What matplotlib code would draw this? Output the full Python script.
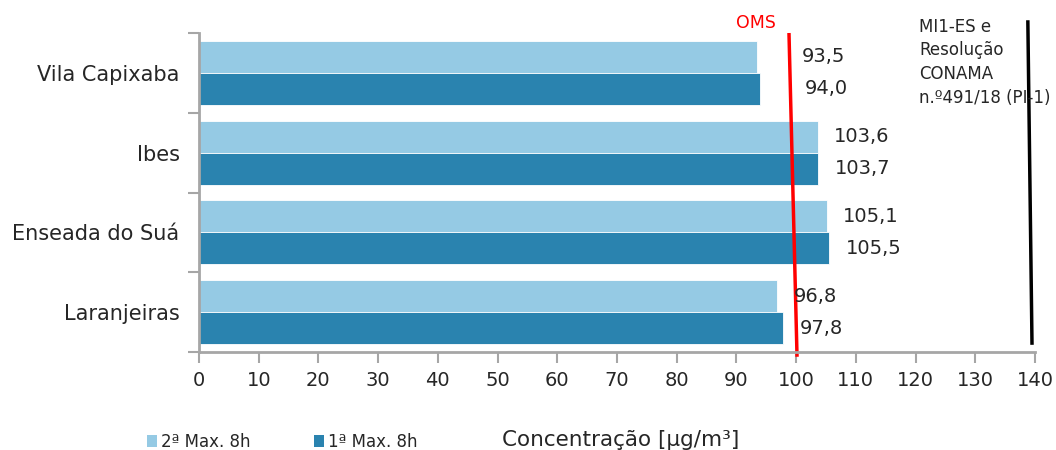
import matplotlib
matplotlib.use("Agg")
import matplotlib.pyplot as plt
from matplotlib.patches import Patch

plt.rcParams['font.family'] = ['DejaVu Sans']

# Monitoring stations, listed top to bottom
stations = ["Vila Capixaba", "Ibes", "Enseada do Suá", "Laranjeiras"]
second_max = [93.5, 103.6, 105.1, 96.8]   # 2ª Max. 8h
first_max = [94.0, 103.7, 105.5, 97.8]    # 1ª Max. 8h
second_labels = ["93,5", "103,6", "105,1", "96,8"]
first_labels = ["94,0", "103,7", "105,5", "97,8"]
x_ticks = list(range(0, 141, 10))

# Reference limits (drawn as slightly slanted guide lines)
oms_line = (98.8, 100.15)      # x at top, x at bottom
conama_line = (138.8, 139.5)

light = "#95CAE4"
dark = "#2A83AF"
grey = "#A6A6A6"
txt = "#262626"

fig = plt.figure(figsize=(10.56, 4.5), dpi=100)
ax = fig.add_axes([199 / 1056, 1 - 352 / 450, (1035 - 199) / 1056, (352 - 33) / 450])

n = len(stations)
pos = [n - 1 - i for i in range(n)]
h = 0.4
ax.barh([p + h / 2 for p in pos], second_max, height=h, color=light,
        edgecolor="white", linewidth=0.6, label="2ª Max. 8h")
ax.barh([p - h / 2 for p in pos], first_max, height=h, color=dark,
        edgecolor="white", linewidth=0.6, label="1ª Max. 8h")

# value labels; the top station's labels sit to the right of the OMS line
for i, p in enumerate(pos):
    off = 32 if i == 0 else 12
    ax.annotate(second_labels[i], (second_max[i], p + h / 2), xytext=(off, 0),
                textcoords="offset points", va="center", ha="left",
                fontsize=14, color=txt)
    ax.annotate(first_labels[i], (first_max[i], p - h / 2), xytext=(off, 0),
                textcoords="offset points", va="center", ha="left",
                fontsize=14, color=txt)

ax.set_xlim(0, 140)
ax.set_ylim(-0.5, n - 0.5)
ax.set_xticks(x_ticks)
ax.set_xticklabels([str(t) for t in x_ticks], fontsize=14, color=txt)
ax.set_yticks(pos)
ax.set_yticklabels(stations, fontsize=15, color=txt)
ax.set_yticks([p - 0.5 for p in range(n + 1)], minor=True)
ax.tick_params(axis="y", which="major", length=0, pad=14)
ax.tick_params(axis="y", which="minor", length=8, width=1.5, color=grey)
ax.tick_params(axis="x", which="major", length=8, width=1.5, color=grey,
               direction="out", pad=6)

for s in ("top", "right"):
    ax.spines[s].set_visible(False)
for s in ("left", "bottom"):
    ax.spines[s].set_color(grey)
    ax.spines[s].set_linewidth(2)

# OMS guideline
ax.plot(oms_line, [n - 0.5, -0.56], color="red", lw=2.5, clip_on=False,
        solid_capstyle="butt")
ax.text(96.6, n - 0.5 + 0.01, "OMS", color="red", fontsize=12.5,
        ha="right", va="bottom")

# MI1-ES / CONAMA limit
ax.plot(conama_line, [n - 0.5 + 0.16, -0.41], color="black", lw=2.5,
        clip_on=False, solid_capstyle="butt")
ax.text(120.6, n - 0.5 + 0.19, "MI1-ES e\nResolução\nCONAMA\nn.º491/18 (PI-1)",
        fontsize=12, color=txt, ha="left", va="top", linespacing=1.4)

fig.text(621 / 1056, 1 - 440 / 450, "Concentração [µg/m³]", fontsize=15.5,
         color=txt, ha="center", va="center")

handles = [Patch(facecolor=light, edgecolor="none"),
           Patch(facecolor=dark, edgecolor="none")]
fig.legend(handles, ["2ª Max. 8h", "1ª Max. 8h"], loc="center left",
           bbox_to_anchor=(147 / 1056, 1 - 442 / 450), ncol=2, frameon=False,
           fontsize=12, handlelength=0.6, handleheight=0.7, handletextpad=0.25,
           columnspacing=3.8, borderpad=0, borderaxespad=0, labelcolor=txt)

fig.savefig("out.png", dpi=100)
